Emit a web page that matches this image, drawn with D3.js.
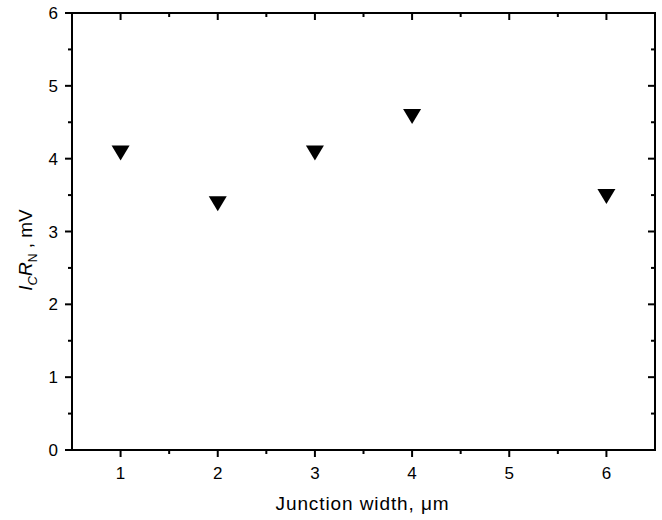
<!DOCTYPE html>
<html>
<head>
<meta charset="utf-8">
<script src="https://cdn.jsdelivr.net/npm/d3@7"></script>
<style>
  body { margin: 0; background: #fff; }
  text { font-family: "Liberation Sans", Arial, sans-serif; fill: #000; }
</style>
</head>
<body>
<svg id="chart" width="662" height="520"></svg>
<script>
const widths = [1, 2, 3, 4, 6];
const icrn = [4.1, 3.4, 4.1, 4.6, 3.5];
const xTicks = [1, 2, 3, 4, 5, 6];
const yTicks = [0, 1, 2, 3, 4, 5, 6];

const svg = d3.select('#chart');
const margin = { left: 72, right: 7, top: 13, bottom: 70 };
const width = 662 - margin.left - margin.right;
const height = 520 - margin.top - margin.bottom;

const g = svg.append('g')
  .attr('transform', `translate(${margin.left}, ${margin.top})`);

const x = d3.scaleLinear().domain([0.5, 6.5]).range([0, width]);
const y = d3.scaleLinear().domain([0, 6]).range([height, 0]);

const xMinor = d3.range(1.5, 6.5, 1);
const yMinor = d3.range(0.5, 6, 1);

// tick marks: outward on bottom/left, inward on top/right
const ticks = g.append('g').attr('stroke', '#000').attr('stroke-width', 2);
const xt = xTicks.map(v => ({ v, len: 7 })).concat(xMinor.map(v => ({ v, len: 4 })));
const yt = yTicks.map(v => ({ v, len: 7 })).concat(yMinor.map(v => ({ v, len: 4 })));

ticks.selectAll('.xb').data(xt).enter().append('line')
  .attr('x1', d => x(d.v)).attr('x2', d => x(d.v))
  .attr('y1', height).attr('y2', d => height + d.len);
ticks.selectAll('.xt').data(xt).enter().append('line')
  .attr('x1', d => x(d.v)).attr('x2', d => x(d.v))
  .attr('y1', 0).attr('y2', d => d.len);
ticks.selectAll('.yl').data(yt).enter().append('line')
  .attr('y1', d => y(d.v)).attr('y2', d => y(d.v))
  .attr('x1', 0).attr('x2', d => -d.len);
ticks.selectAll('.yr').data(yt).enter().append('line')
  .attr('y1', d => y(d.v)).attr('y2', d => y(d.v))
  .attr('x1', width).attr('x2', d => width - d.len);

// tick labels
g.selectAll('.xlab').data(xTicks).enter().append('text')
  .attr('x', d => x(d)).attr('y', height + 29)
  .attr('text-anchor', 'middle')
  .style('font-size', '17px')
  .text(d => d);
g.selectAll('.ylab').data(yTicks).enter().append('text')
  .attr('x', -14).attr('y', d => y(d) + 6)
  .attr('text-anchor', 'end')
  .style('font-size', '17px')
  .text(d => d);

// frame
g.append('rect')
  .attr('width', width).attr('height', height)
  .attr('fill', 'none').attr('stroke', '#000').attr('stroke-width', 2);

// markers: down triangles
const tri = 'M-9,-6 L9,-6 L0,9 Z';
g.selectAll('.pt')
  .data(widths.map((w, i) => ({ w, v: icrn[i] })))
  .enter().append('path')
  .attr('class', 'pt')
  .attr('d', tri)
  .attr('transform', d => `translate(${x(d.w)}, ${y(d.v)})`)
  .attr('fill', '#000');

// x label
svg.append('text')
  .attr('x', margin.left + width / 2 - 1)
  .attr('y', 510)
  .attr('text-anchor', 'middle')
  .style('font-size', '19px')
  .style('letter-spacing', '0.9px')
  .text('Junction width, \u03bcm');

// y label
const yl = svg.append('text')
  .attr('transform', 'translate(32, 250) rotate(-90)')
  .attr('text-anchor', 'middle')
  .style('font-size', '19px');
yl.append('tspan').style('font-style', 'italic').text('I');
yl.append('tspan').attr('dy', 5).style('font-size', '13px').style('font-style', 'italic').text('C');
yl.append('tspan').attr('dy', -5).style('font-style', 'italic').text('R');
yl.append('tspan').attr('dy', 5).style('font-size', '12px').text('N');
yl.append('tspan').attr('dy', -5).text(' ,  mV');
</script>
</body>
</html>
